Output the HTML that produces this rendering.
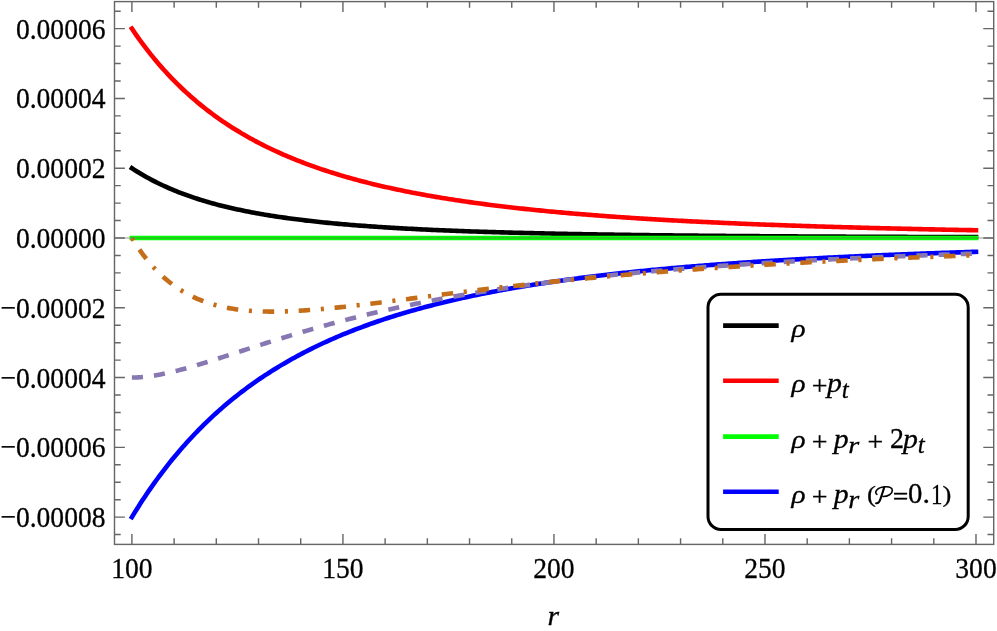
<!DOCTYPE html>
<html><head><meta charset="utf-8"><title>plot</title>
<style>html,body{margin:0;padding:0;background:#fff;}svg{display:block;}text{font-family:"Liberation Serif",serif;fill:#000;}.tk text{stroke:#000;stroke-width:0.3px;}</style></head><body>
<svg width="997" height="631" viewBox="0 0 997 631">
<rect width="997" height="631" fill="#fff"/>
<defs><mask id="mk" maskUnits="userSpaceOnUse" x="0" y="0" width="997" height="631"><rect width="997" height="631" fill="#fff"/></mask></defs>
<g fill="none" stroke-width="4.60" stroke-linejoin="round">
<path d="M131.90 168.22 L134.01 169.60 L136.12 170.94 L138.23 172.25 L140.34 173.53 L142.45 174.78 L144.56 176.00 L146.67 177.19 L148.78 178.35 L150.89 179.49 L153.00 180.59 L155.11 181.67 L157.22 182.73 L159.33 183.76 L161.44 184.77 L163.55 185.75 L165.66 186.71 L167.77 187.65 L169.88 188.57 L171.99 189.46 L174.11 190.34 L176.22 191.20 L178.33 192.03 L180.44 192.85 L182.55 193.65 L184.66 194.44 L186.77 195.20 L188.88 195.95 L190.99 196.68 L193.10 197.40 L195.21 198.10 L197.32 198.79 L199.43 199.46 L201.54 200.12 L203.65 200.76 L205.76 201.39 L207.87 202.01 L209.98 202.61 L212.09 203.20 L214.20 203.78 L216.31 204.35 L218.42 204.90 L220.53 205.45 L222.64 205.98 L224.75 206.50 L226.86 207.01 L228.97 207.51 L231.08 208.00 L233.19 208.48 L235.30 208.96 L237.41 209.42 L239.52 209.87 L241.63 210.31 L243.74 210.75 L245.85 211.18 L247.96 211.59 L250.07 212.00 L252.18 212.41 L254.29 212.80 L256.40 213.19 L258.51 213.57 L260.63 213.94 L262.74 214.31 L264.85 214.66 L266.96 215.02 L269.07 215.36 L271.18 215.70 L273.29 216.03 L275.40 216.36 L277.51 216.68 L279.62 216.99 L281.73 217.30 L283.84 217.60 L285.95 217.90 L288.06 218.19 L290.17 218.48 L292.28 218.76 L294.39 219.04 L296.50 219.31 L298.61 219.57 L300.72 219.84 L302.83 220.09 L304.94 220.35 L307.05 220.59 L309.16 220.84 L311.27 221.08 L313.38 221.31 L315.49 221.54 L317.60 221.77 L319.71 221.99 L321.82 222.21 L323.93 222.43 L326.04 222.64 L328.15 222.85 L330.26 223.06 L332.37 223.26 L334.48 223.46 L336.59 223.65 L338.70 223.84 L340.81 224.03 L342.93 224.22 L345.04 224.40 L347.15 224.58 L349.26 224.75 L351.37 224.93 L353.48 225.10 L355.59 225.27 L357.70 225.43 L359.81 225.59 L361.92 225.75 L364.03 225.91 L366.14 226.07 L368.25 226.22 L370.36 226.37 L372.47 226.51 L374.58 226.66 L376.69 226.80 L378.80 226.94 L380.91 227.08 L383.02 227.22 L385.13 227.35 L387.24 227.48 L389.35 227.61 L391.46 227.74 L393.57 227.87 L395.68 227.99 L397.79 228.11 L399.90 228.24 L402.01 228.35 L404.12 228.47 L406.23 228.59 L408.34 228.70 L410.45 228.81 L412.56 228.92 L414.67 229.03 L416.78 229.14 L418.89 229.24 L421.00 229.34 L423.11 229.45 L425.22 229.55 L427.34 229.65 L429.45 229.74 L431.56 229.84 L433.67 229.93 L435.78 230.03 L437.89 230.12 L440.00 230.21 L442.11 230.30 L444.22 230.39 L446.33 230.47 L448.44 230.56 L450.55 230.64 L452.66 230.73 L454.77 230.81 L456.88 230.89 L458.99 230.97 L461.10 231.05 L463.21 231.13 L465.32 231.20 L467.43 231.28 L469.54 231.35 L471.65 231.43 L473.76 231.50 L475.87 231.57 L477.98 231.64 L480.09 231.71 L482.20 231.78 L484.31 231.85 L486.42 231.91 L488.53 231.98 L490.64 232.04 L492.75 232.11 L494.86 232.17 L496.97 232.23 L499.08 232.29 L501.19 232.35 L503.30 232.41 L505.41 232.47 L507.52 232.53 L509.63 232.59 L511.75 232.65 L513.86 232.70 L515.97 232.76 L518.08 232.81 L520.19 232.87 L522.30 232.92 L524.41 232.97 L526.52 233.02 L528.63 233.07 L530.74 233.12 L532.85 233.17 L534.96 233.22 L537.07 233.27 L539.18 233.32 L541.29 233.37 L543.40 233.41 L545.51 233.46 L547.62 233.51 L549.73 233.55 L551.84 233.59 L553.95 233.64 L556.06 233.68 L558.17 233.72 L560.28 233.77 L562.39 233.81 L564.50 233.85 L566.61 233.89 L568.72 233.93 L570.83 233.97 L572.94 234.01 L575.05 234.05 L577.16 234.09 L579.27 234.13 L581.38 234.16 L583.49 234.20 L585.60 234.24 L587.71 234.27 L589.82 234.31 L591.93 234.34 L594.04 234.38 L596.16 234.41 L598.27 234.45 L600.38 234.48 L602.49 234.51 L604.60 234.55 L606.71 234.58 L608.82 234.61 L610.93 234.64 L613.04 234.67 L615.15 234.70 L617.26 234.73 L619.37 234.76 L621.48 234.79 L623.59 234.82 L625.70 234.85 L627.81 234.88 L629.92 234.91 L632.03 234.94 L634.14 234.97 L636.25 234.99 L638.36 235.02 L640.47 235.05 L642.58 235.07 L644.69 235.10 L646.80 235.13 L648.91 235.15 L651.02 235.18 L653.13 235.20 L655.24 235.23 L657.35 235.25 L659.46 235.28 L661.57 235.30 L663.68 235.33 L665.79 235.35 L667.90 235.37 L670.01 235.40 L672.12 235.42 L674.23 235.44 L676.34 235.46 L678.45 235.48 L680.57 235.51 L682.68 235.53 L684.79 235.55 L686.90 235.57 L689.01 235.59 L691.12 235.61 L693.23 235.63 L695.34 235.65 L697.45 235.67 L699.56 235.69 L701.67 235.71 L703.78 235.73 L705.89 235.75 L708.00 235.77 L710.11 235.79 L712.22 235.81 L714.33 235.83 L716.44 235.84 L718.55 235.86 L720.66 235.88 L722.77 235.90 L724.88 235.91 L726.99 235.93 L729.10 235.95 L731.21 235.97 L733.32 235.98 L735.43 236.00 L737.54 236.02 L739.65 236.03 L741.76 236.05 L743.87 236.06 L745.98 236.08 L748.09 236.09 L750.20 236.11 L752.31 236.13 L754.42 236.14 L756.53 236.16 L758.64 236.17 L760.75 236.18 L762.86 236.20 L764.98 236.21 L767.09 236.23 L769.20 236.24 L771.31 236.26 L773.42 236.27 L775.53 236.28 L777.64 236.30 L779.75 236.31 L781.86 236.32 L783.97 236.34 L786.08 236.35 L788.19 236.36 L790.30 236.38 L792.41 236.39 L794.52 236.40 L796.63 236.41 L798.74 236.43 L800.85 236.44 L802.96 236.45 L805.07 236.46 L807.18 236.47 L809.29 236.48 L811.40 236.50 L813.51 236.51 L815.62 236.52 L817.73 236.53 L819.84 236.54 L821.95 236.55 L824.06 236.56 L826.17 236.57 L828.28 236.59 L830.39 236.60 L832.50 236.61 L834.61 236.62 L836.72 236.63 L838.83 236.64 L840.94 236.65 L843.05 236.66 L845.16 236.67 L847.27 236.68 L849.38 236.69 L851.50 236.70 L853.61 236.71 L855.72 236.72 L857.83 236.73 L859.94 236.73 L862.05 236.74 L864.16 236.75 L866.27 236.76 L868.38 236.77 L870.49 236.78 L872.60 236.79 L874.71 236.80 L876.82 236.81 L878.93 236.81 L881.04 236.82 L883.15 236.83 L885.26 236.84 L887.37 236.85 L889.48 236.86 L891.59 236.86 L893.70 236.87 L895.81 236.88 L897.92 236.89 L900.03 236.90 L902.14 236.90 L904.25 236.91 L906.36 236.92 L908.47 236.93 L910.58 236.93 L912.69 236.94 L914.80 236.95 L916.91 236.96 L919.02 236.96 L921.13 236.97 L923.24 236.98 L925.35 236.99 L927.46 236.99 L929.57 237.00 L931.68 237.01 L933.80 237.01 L935.91 237.02 L938.02 237.03 L940.13 237.03 L942.24 237.04 L944.35 237.05 L946.46 237.05 L948.57 237.06 L950.68 237.07 L952.79 237.07 L954.90 237.08 L957.01 237.08 L959.12 237.09 L961.23 237.10 L963.34 237.10 L965.45 237.11 L967.56 237.12 L969.67 237.12 L971.78 237.13 L973.89 237.13 L976.00 237.14" stroke="#000000" stroke-linecap="square"/>
<path d="M131.90 28.66 L134.01 31.77 L136.12 34.82 L138.23 37.80 L140.34 40.73 L142.45 43.61 L144.56 46.42 L146.67 49.19 L148.78 51.90 L150.89 54.56 L153.00 57.16 L155.11 59.72 L157.22 62.23 L159.33 64.70 L161.44 67.12 L163.55 69.49 L165.66 71.82 L167.77 74.11 L169.88 76.35 L171.99 78.56 L174.11 80.72 L176.22 82.85 L178.33 84.93 L180.44 86.98 L182.55 89.00 L184.66 90.97 L186.77 92.92 L188.88 94.83 L190.99 96.70 L193.10 98.54 L195.21 100.36 L197.32 102.14 L199.43 103.88 L201.54 105.60 L203.65 107.29 L205.76 108.96 L207.87 110.59 L209.98 112.20 L212.09 113.77 L214.20 115.33 L216.31 116.85 L218.42 118.36 L220.53 119.83 L222.64 121.29 L224.75 122.72 L226.86 124.12 L228.97 125.50 L231.08 126.86 L233.19 128.20 L235.30 129.52 L237.41 130.82 L239.52 132.09 L241.63 133.35 L243.74 134.59 L245.85 135.80 L247.96 137.00 L250.07 138.18 L252.18 139.34 L254.29 140.48 L256.40 141.61 L258.51 142.72 L260.63 143.81 L262.74 144.88 L264.85 145.94 L266.96 146.98 L269.07 148.01 L271.18 149.02 L273.29 150.02 L275.40 151.00 L277.51 151.96 L279.62 152.92 L281.73 153.85 L283.84 154.78 L285.95 155.69 L288.06 156.59 L290.17 157.47 L292.28 158.34 L294.39 159.20 L296.50 160.05 L298.61 160.89 L300.72 161.71 L302.83 162.52 L304.94 163.32 L307.05 164.11 L309.16 164.89 L311.27 165.66 L313.38 166.41 L315.49 167.16 L317.60 167.89 L319.71 168.62 L321.82 169.33 L323.93 170.04 L326.04 170.73 L328.15 171.42 L330.26 172.10 L332.37 172.77 L334.48 173.42 L336.59 174.07 L338.70 174.72 L340.81 175.35 L342.93 175.97 L345.04 176.59 L347.15 177.20 L349.26 177.80 L351.37 178.39 L353.48 178.97 L355.59 179.55 L357.70 180.12 L359.81 180.68 L361.92 181.24 L364.03 181.78 L366.14 182.32 L368.25 182.86 L370.36 183.39 L372.47 183.91 L374.58 184.42 L376.69 184.93 L378.80 185.43 L380.91 185.92 L383.02 186.41 L385.13 186.89 L387.24 187.37 L389.35 187.84 L391.46 188.30 L393.57 188.76 L395.68 189.21 L397.79 189.66 L399.90 190.10 L402.01 190.54 L404.12 190.97 L406.23 191.40 L408.34 191.82 L410.45 192.24 L412.56 192.65 L414.67 193.05 L416.78 193.45 L418.89 193.85 L421.00 194.24 L423.11 194.63 L425.22 195.01 L427.34 195.39 L429.45 195.76 L431.56 196.13 L433.67 196.50 L435.78 196.86 L437.89 197.22 L440.00 197.57 L442.11 197.92 L444.22 198.26 L446.33 198.60 L448.44 198.94 L450.55 199.27 L452.66 199.60 L454.77 199.93 L456.88 200.25 L458.99 200.57 L461.10 200.88 L463.21 201.19 L465.32 201.50 L467.43 201.80 L469.54 202.10 L471.65 202.40 L473.76 202.70 L475.87 202.99 L477.98 203.28 L480.09 203.56 L482.20 203.84 L484.31 204.12 L486.42 204.40 L488.53 204.67 L490.64 204.94 L492.75 205.20 L494.86 205.47 L496.97 205.73 L499.08 205.99 L501.19 206.24 L503.30 206.50 L505.41 206.75 L507.52 206.99 L509.63 207.24 L511.75 207.48 L513.86 207.72 L515.97 207.96 L518.08 208.19 L520.19 208.42 L522.30 208.65 L524.41 208.88 L526.52 209.11 L528.63 209.33 L530.74 209.55 L532.85 209.77 L534.96 209.98 L537.07 210.20 L539.18 210.41 L541.29 210.62 L543.40 210.83 L545.51 211.03 L547.62 211.23 L549.73 211.44 L551.84 211.64 L553.95 211.83 L556.06 212.03 L558.17 212.22 L560.28 212.41 L562.39 212.60 L564.50 212.79 L566.61 212.98 L568.72 213.16 L570.83 213.34 L572.94 213.52 L575.05 213.70 L577.16 213.88 L579.27 214.05 L581.38 214.23 L583.49 214.40 L585.60 214.57 L587.71 214.74 L589.82 214.90 L591.93 215.07 L594.04 215.23 L596.16 215.40 L598.27 215.56 L600.38 215.72 L602.49 215.87 L604.60 216.03 L606.71 216.18 L608.82 216.34 L610.93 216.49 L613.04 216.64 L615.15 216.79 L617.26 216.94 L619.37 217.08 L621.48 217.23 L623.59 217.37 L625.70 217.51 L627.81 217.65 L629.92 217.79 L632.03 217.93 L634.14 218.07 L636.25 218.21 L638.36 218.34 L640.47 218.47 L642.58 218.61 L644.69 218.74 L646.80 218.87 L648.91 219.00 L651.02 219.12 L653.13 219.25 L655.24 219.37 L657.35 219.50 L659.46 219.62 L661.57 219.74 L663.68 219.86 L665.79 219.98 L667.90 220.10 L670.01 220.22 L672.12 220.34 L674.23 220.45 L676.34 220.57 L678.45 220.68 L680.57 220.79 L682.68 220.91 L684.79 221.02 L686.90 221.13 L689.01 221.24 L691.12 221.34 L693.23 221.45 L695.34 221.56 L697.45 221.66 L699.56 221.77 L701.67 221.87 L703.78 221.97 L705.89 222.07 L708.00 222.17 L710.11 222.27 L712.22 222.37 L714.33 222.47 L716.44 222.57 L718.55 222.67 L720.66 222.76 L722.77 222.86 L724.88 222.95 L726.99 223.04 L729.10 223.14 L731.21 223.23 L733.32 223.32 L735.43 223.41 L737.54 223.50 L739.65 223.59 L741.76 223.68 L743.87 223.77 L745.98 223.85 L748.09 223.94 L750.20 224.02 L752.31 224.11 L754.42 224.19 L756.53 224.28 L758.64 224.36 L760.75 224.44 L762.86 224.52 L764.98 224.60 L767.09 224.68 L769.20 224.76 L771.31 224.84 L773.42 224.92 L775.53 225.00 L777.64 225.07 L779.75 225.15 L781.86 225.23 L783.97 225.30 L786.08 225.37 L788.19 225.45 L790.30 225.52 L792.41 225.60 L794.52 225.67 L796.63 225.74 L798.74 225.81 L800.85 225.88 L802.96 225.95 L805.07 226.02 L807.18 226.09 L809.29 226.16 L811.40 226.23 L813.51 226.29 L815.62 226.36 L817.73 226.43 L819.84 226.49 L821.95 226.56 L824.06 226.62 L826.17 226.69 L828.28 226.75 L830.39 226.81 L832.50 226.88 L834.61 226.94 L836.72 227.00 L838.83 227.06 L840.94 227.12 L843.05 227.19 L845.16 227.25 L847.27 227.31 L849.38 227.36 L851.50 227.42 L853.61 227.48 L855.72 227.54 L857.83 227.60 L859.94 227.65 L862.05 227.71 L864.16 227.77 L866.27 227.82 L868.38 227.88 L870.49 227.93 L872.60 227.99 L874.71 228.04 L876.82 228.10 L878.93 228.15 L881.04 228.20 L883.15 228.26 L885.26 228.31 L887.37 228.36 L889.48 228.41 L891.59 228.46 L893.70 228.51 L895.81 228.57 L897.92 228.62 L900.03 228.67 L902.14 228.71 L904.25 228.76 L906.36 228.81 L908.47 228.86 L910.58 228.91 L912.69 228.96 L914.80 229.00 L916.91 229.05 L919.02 229.10 L921.13 229.14 L923.24 229.19 L925.35 229.24 L927.46 229.28 L929.57 229.33 L931.68 229.37 L933.80 229.42 L935.91 229.46 L938.02 229.50 L940.13 229.55 L942.24 229.59 L944.35 229.63 L946.46 229.68 L948.57 229.72 L950.68 229.76 L952.79 229.80 L954.90 229.85 L957.01 229.89 L959.12 229.93 L961.23 229.97 L963.34 230.01 L965.45 230.05 L967.56 230.09 L969.67 230.13 L971.78 230.17 L973.89 230.21 L976.00 230.25" stroke="#ff0000" stroke-linecap="square"/>
<path d="M131.90 238.00 L134.01 238.00 L136.12 238.00 L138.23 238.00 L140.34 238.00 L142.45 238.00 L144.56 238.00 L146.67 238.00 L148.78 238.00 L150.89 238.00 L153.00 238.00 L155.11 238.00 L157.22 238.00 L159.33 238.00 L161.44 238.00 L163.55 238.00 L165.66 238.00 L167.77 238.00 L169.88 238.00 L171.99 238.00 L174.11 238.00 L176.22 238.00 L178.33 238.00 L180.44 238.00 L182.55 238.00 L184.66 238.00 L186.77 238.00 L188.88 238.00 L190.99 238.00 L193.10 238.00 L195.21 238.00 L197.32 238.00 L199.43 238.00 L201.54 238.00 L203.65 238.00 L205.76 238.00 L207.87 238.00 L209.98 238.00 L212.09 238.00 L214.20 238.00 L216.31 238.00 L218.42 238.00 L220.53 238.00 L222.64 238.00 L224.75 238.00 L226.86 238.00 L228.97 238.00 L231.08 238.00 L233.19 238.00 L235.30 238.00 L237.41 238.00 L239.52 238.00 L241.63 238.00 L243.74 238.00 L245.85 238.00 L247.96 238.00 L250.07 238.00 L252.18 238.00 L254.29 238.00 L256.40 238.00 L258.51 238.00 L260.63 238.00 L262.74 238.00 L264.85 238.00 L266.96 238.00 L269.07 238.00 L271.18 238.00 L273.29 238.00 L275.40 238.00 L277.51 238.00 L279.62 238.00 L281.73 238.00 L283.84 238.00 L285.95 238.00 L288.06 238.00 L290.17 238.00 L292.28 238.00 L294.39 238.00 L296.50 238.00 L298.61 238.00 L300.72 238.00 L302.83 238.00 L304.94 238.00 L307.05 238.00 L309.16 238.00 L311.27 238.00 L313.38 238.00 L315.49 238.00 L317.60 238.00 L319.71 238.00 L321.82 238.00 L323.93 238.00 L326.04 238.00 L328.15 238.00 L330.26 238.00 L332.37 238.00 L334.48 238.00 L336.59 238.00 L338.70 238.00 L340.81 238.00 L342.93 238.00 L345.04 238.00 L347.15 238.00 L349.26 238.00 L351.37 238.00 L353.48 238.00 L355.59 238.00 L357.70 238.00 L359.81 238.00 L361.92 238.00 L364.03 238.00 L366.14 238.00 L368.25 238.00 L370.36 238.00 L372.47 238.00 L374.58 238.00 L376.69 238.00 L378.80 238.00 L380.91 238.00 L383.02 238.00 L385.13 238.00 L387.24 238.00 L389.35 238.00 L391.46 238.00 L393.57 238.00 L395.68 238.00 L397.79 238.00 L399.90 238.00 L402.01 238.00 L404.12 238.00 L406.23 238.00 L408.34 238.00 L410.45 238.00 L412.56 238.00 L414.67 238.00 L416.78 238.00 L418.89 238.00 L421.00 238.00 L423.11 238.00 L425.22 238.00 L427.34 238.00 L429.45 238.00 L431.56 238.00 L433.67 238.00 L435.78 238.00 L437.89 238.00 L440.00 238.00 L442.11 238.00 L444.22 238.00 L446.33 238.00 L448.44 238.00 L450.55 238.00 L452.66 238.00 L454.77 238.00 L456.88 238.00 L458.99 238.00 L461.10 238.00 L463.21 238.00 L465.32 238.00 L467.43 238.00 L469.54 238.00 L471.65 238.00 L473.76 238.00 L475.87 238.00 L477.98 238.00 L480.09 238.00 L482.20 238.00 L484.31 238.00 L486.42 238.00 L488.53 238.00 L490.64 238.00 L492.75 238.00 L494.86 238.00 L496.97 238.00 L499.08 238.00 L501.19 238.00 L503.30 238.00 L505.41 238.00 L507.52 238.00 L509.63 238.00 L511.75 238.00 L513.86 238.00 L515.97 238.00 L518.08 238.00 L520.19 238.00 L522.30 238.00 L524.41 238.00 L526.52 238.00 L528.63 238.00 L530.74 238.00 L532.85 238.00 L534.96 238.00 L537.07 238.00 L539.18 238.00 L541.29 238.00 L543.40 238.00 L545.51 238.00 L547.62 238.00 L549.73 238.00 L551.84 238.00 L553.95 238.00 L556.06 238.00 L558.17 238.00 L560.28 238.00 L562.39 238.00 L564.50 238.00 L566.61 238.00 L568.72 238.00 L570.83 238.00 L572.94 238.00 L575.05 238.00 L577.16 238.00 L579.27 238.00 L581.38 238.00 L583.49 238.00 L585.60 238.00 L587.71 238.00 L589.82 238.00 L591.93 238.00 L594.04 238.00 L596.16 238.00 L598.27 238.00 L600.38 238.00 L602.49 238.00 L604.60 238.00 L606.71 238.00 L608.82 238.00 L610.93 238.00 L613.04 238.00 L615.15 238.00 L617.26 238.00 L619.37 238.00 L621.48 238.00 L623.59 238.00 L625.70 238.00 L627.81 238.00 L629.92 238.00 L632.03 238.00 L634.14 238.00 L636.25 238.00 L638.36 238.00 L640.47 238.00 L642.58 238.00 L644.69 238.00 L646.80 238.00 L648.91 238.00 L651.02 238.00 L653.13 238.00 L655.24 238.00 L657.35 238.00 L659.46 238.00 L661.57 238.00 L663.68 238.00 L665.79 238.00 L667.90 238.00 L670.01 238.00 L672.12 238.00 L674.23 238.00 L676.34 238.00 L678.45 238.00 L680.57 238.00 L682.68 238.00 L684.79 238.00 L686.90 238.00 L689.01 238.00 L691.12 238.00 L693.23 238.00 L695.34 238.00 L697.45 238.00 L699.56 238.00 L701.67 238.00 L703.78 238.00 L705.89 238.00 L708.00 238.00 L710.11 238.00 L712.22 238.00 L714.33 238.00 L716.44 238.00 L718.55 238.00 L720.66 238.00 L722.77 238.00 L724.88 238.00 L726.99 238.00 L729.10 238.00 L731.21 238.00 L733.32 238.00 L735.43 238.00 L737.54 238.00 L739.65 238.00 L741.76 238.00 L743.87 238.00 L745.98 238.00 L748.09 238.00 L750.20 238.00 L752.31 238.00 L754.42 238.00 L756.53 238.00 L758.64 238.00 L760.75 238.00 L762.86 238.00 L764.98 238.00 L767.09 238.00 L769.20 238.00 L771.31 238.00 L773.42 238.00 L775.53 238.00 L777.64 238.00 L779.75 238.00 L781.86 238.00 L783.97 238.00 L786.08 238.00 L788.19 238.00 L790.30 238.00 L792.41 238.00 L794.52 238.00 L796.63 238.00 L798.74 238.00 L800.85 238.00 L802.96 238.00 L805.07 238.00 L807.18 238.00 L809.29 238.00 L811.40 238.00 L813.51 238.00 L815.62 238.00 L817.73 238.00 L819.84 238.00 L821.95 238.00 L824.06 238.00 L826.17 238.00 L828.28 238.00 L830.39 238.00 L832.50 238.00 L834.61 238.00 L836.72 238.00 L838.83 238.00 L840.94 238.00 L843.05 238.00 L845.16 238.00 L847.27 238.00 L849.38 238.00 L851.50 238.00 L853.61 238.00 L855.72 238.00 L857.83 238.00 L859.94 238.00 L862.05 238.00 L864.16 238.00 L866.27 238.00 L868.38 238.00 L870.49 238.00 L872.60 238.00 L874.71 238.00 L876.82 238.00 L878.93 238.00 L881.04 238.00 L883.15 238.00 L885.26 238.00 L887.37 238.00 L889.48 238.00 L891.59 238.00 L893.70 238.00 L895.81 238.00 L897.92 238.00 L900.03 238.00 L902.14 238.00 L904.25 238.00 L906.36 238.00 L908.47 238.00 L910.58 238.00 L912.69 238.00 L914.80 238.00 L916.91 238.00 L919.02 238.00 L921.13 238.00 L923.24 238.00 L925.35 238.00 L927.46 238.00 L929.57 238.00 L931.68 238.00 L933.80 238.00 L935.91 238.00 L938.02 238.00 L940.13 238.00 L942.24 238.00 L944.35 238.00 L946.46 238.00 L948.57 238.00 L950.68 238.00 L952.79 238.00 L954.90 238.00 L957.01 238.00 L959.12 238.00 L961.23 238.00 L963.34 238.00 L965.45 238.00 L967.56 238.00 L969.67 238.00 L971.78 238.00 L973.89 238.00 L976.00 238.00" stroke="#00ff00" stroke-linecap="square"/>
<path d="M131.90 517.12 L134.01 513.66 L136.12 510.25 L138.23 506.90 L140.34 503.60 L142.45 500.35 L144.56 497.15 L146.67 494.01 L148.78 490.91 L150.89 487.86 L153.00 484.86 L155.11 481.90 L157.22 478.99 L159.33 476.12 L161.44 473.30 L163.55 470.52 L165.66 467.78 L167.77 465.09 L169.88 462.43 L171.99 459.81 L174.11 457.24 L176.22 454.70 L178.33 452.20 L180.44 449.74 L182.55 447.32 L184.66 444.93 L186.77 442.57 L188.88 440.25 L190.99 437.97 L193.10 435.71 L195.21 433.50 L197.32 431.31 L199.43 429.15 L201.54 427.03 L203.65 424.94 L205.76 422.87 L207.87 420.84 L209.98 418.83 L212.09 416.86 L214.20 414.91 L216.31 412.99 L218.42 411.09 L220.53 409.23 L222.64 407.39 L224.75 405.57 L226.86 403.78 L228.97 402.02 L231.08 400.28 L233.19 398.56 L235.30 396.87 L237.41 395.20 L239.52 393.55 L241.63 391.93 L243.74 390.33 L245.85 388.75 L247.96 387.19 L250.07 385.65 L252.18 384.14 L254.29 382.64 L256.40 381.16 L258.51 379.71 L260.63 378.27 L262.74 376.85 L264.85 375.45 L266.96 374.07 L269.07 372.71 L271.18 371.36 L273.29 370.03 L275.40 368.72 L277.51 367.43 L279.62 366.15 L281.73 364.89 L283.84 363.65 L285.95 362.42 L288.06 361.21 L290.17 360.01 L292.28 358.83 L294.39 357.66 L296.50 356.51 L298.61 355.37 L300.72 354.25 L302.83 353.14 L304.94 352.05 L307.05 350.97 L309.16 349.90 L311.27 348.84 L313.38 347.80 L315.49 346.77 L317.60 345.76 L319.71 344.75 L321.82 343.76 L323.93 342.78 L326.04 341.82 L328.15 340.86 L330.26 339.92 L332.37 338.98 L334.48 338.06 L336.59 337.15 L338.70 336.25 L340.81 335.36 L342.93 334.49 L345.04 333.62 L347.15 332.76 L349.26 331.91 L351.37 331.08 L353.48 330.25 L355.59 329.43 L357.70 328.62 L359.81 327.82 L361.92 327.03 L364.03 326.25 L366.14 325.48 L368.25 324.72 L370.36 323.96 L372.47 323.22 L374.58 322.48 L376.69 321.75 L378.80 321.03 L380.91 320.32 L383.02 319.62 L385.13 318.92 L387.24 318.23 L389.35 317.55 L391.46 316.88 L393.57 316.21 L395.68 315.56 L397.79 314.91 L399.90 314.26 L402.01 313.63 L404.12 313.00 L406.23 312.37 L408.34 311.76 L410.45 311.15 L412.56 310.55 L414.67 309.95 L416.78 309.36 L418.89 308.78 L421.00 308.20 L423.11 307.63 L425.22 307.07 L427.34 306.51 L429.45 305.96 L431.56 305.41 L433.67 304.87 L435.78 304.33 L437.89 303.81 L440.00 303.28 L442.11 302.76 L444.22 302.25 L446.33 301.74 L448.44 301.24 L450.55 300.74 L452.66 300.25 L454.77 299.77 L456.88 299.28 L458.99 298.81 L461.10 298.34 L463.21 297.87 L465.32 297.41 L467.43 296.95 L469.54 296.50 L471.65 296.05 L473.76 295.60 L475.87 295.16 L477.98 294.73 L480.09 294.30 L482.20 293.87 L484.31 293.45 L486.42 293.03 L488.53 292.62 L490.64 292.21 L492.75 291.81 L494.86 291.40 L496.97 291.01 L499.08 290.61 L501.19 290.22 L503.30 289.84 L505.41 289.46 L507.52 289.08 L509.63 288.70 L511.75 288.33 L513.86 287.96 L515.97 287.60 L518.08 287.24 L520.19 286.88 L522.30 286.53 L524.41 286.18 L526.52 285.83 L528.63 285.49 L530.74 285.15 L532.85 284.81 L534.96 284.48 L537.07 284.15 L539.18 283.82 L541.29 283.50 L543.40 283.18 L545.51 282.86 L547.62 282.54 L549.73 282.23 L551.84 281.92 L553.95 281.61 L556.06 281.31 L558.17 281.01 L560.28 280.71 L562.39 280.41 L564.50 280.12 L566.61 279.83 L568.72 279.54 L570.83 279.26 L572.94 278.98 L575.05 278.70 L577.16 278.42 L579.27 278.14 L581.38 277.87 L583.49 277.60 L585.60 277.33 L587.71 277.07 L589.82 276.81 L591.93 276.55 L594.04 276.29 L596.16 276.03 L598.27 275.78 L600.38 275.53 L602.49 275.28 L604.60 275.03 L606.71 274.79 L608.82 274.55 L610.93 274.30 L613.04 274.07 L615.15 273.83 L617.26 273.60 L619.37 273.36 L621.48 273.13 L623.59 272.91 L625.70 272.68 L627.81 272.46 L629.92 272.23 L632.03 272.01 L634.14 271.79 L636.25 271.58 L638.36 271.36 L640.47 271.15 L642.58 270.94 L644.69 270.73 L646.80 270.52 L648.91 270.32 L651.02 270.11 L653.13 269.91 L655.24 269.71 L657.35 269.51 L659.46 269.31 L661.57 269.12 L663.68 268.92 L665.79 268.73 L667.90 268.54 L670.01 268.35 L672.12 268.16 L674.23 267.97 L676.34 267.79 L678.45 267.61 L680.57 267.42 L682.68 267.24 L684.79 267.06 L686.90 266.89 L689.01 266.71 L691.12 266.54 L693.23 266.36 L695.34 266.19 L697.45 266.02 L699.56 265.85 L701.67 265.69 L703.78 265.52 L705.89 265.35 L708.00 265.19 L710.11 265.03 L712.22 264.87 L714.33 264.71 L716.44 264.55 L718.55 264.39 L720.66 264.23 L722.77 264.08 L724.88 263.93 L726.99 263.77 L729.10 263.62 L731.21 263.47 L733.32 263.32 L735.43 263.18 L737.54 263.03 L739.65 262.88 L741.76 262.74 L743.87 262.60 L745.98 262.45 L748.09 262.31 L750.20 262.17 L752.31 262.03 L754.42 261.90 L756.53 261.76 L758.64 261.62 L760.75 261.49 L762.86 261.36 L764.98 261.22 L767.09 261.09 L769.20 260.96 L771.31 260.83 L773.42 260.70 L775.53 260.57 L777.64 260.45 L779.75 260.32 L781.86 260.20 L783.97 260.07 L786.08 259.95 L788.19 259.83 L790.30 259.71 L792.41 259.59 L794.52 259.47 L796.63 259.35 L798.74 259.23 L800.85 259.11 L802.96 259.00 L805.07 258.88 L807.18 258.77 L809.29 258.65 L811.40 258.54 L813.51 258.43 L815.62 258.32 L817.73 258.21 L819.84 258.10 L821.95 257.99 L824.06 257.88 L826.17 257.77 L828.28 257.67 L830.39 257.56 L832.50 257.46 L834.61 257.35 L836.72 257.25 L838.83 257.15 L840.94 257.05 L843.05 256.94 L845.16 256.84 L847.27 256.74 L849.38 256.65 L851.50 256.55 L853.61 256.45 L855.72 256.35 L857.83 256.26 L859.94 256.16 L862.05 256.07 L864.16 255.97 L866.27 255.88 L868.38 255.78 L870.49 255.69 L872.60 255.60 L874.71 255.51 L876.82 255.42 L878.93 255.33 L881.04 255.24 L883.15 255.15 L885.26 255.06 L887.37 254.98 L889.48 254.89 L891.59 254.80 L893.70 254.72 L895.81 254.63 L897.92 254.55 L900.03 254.46 L902.14 254.38 L904.25 254.30 L906.36 254.21 L908.47 254.13 L910.58 254.05 L912.69 253.97 L914.80 253.89 L916.91 253.81 L919.02 253.73 L921.13 253.65 L923.24 253.58 L925.35 253.50 L927.46 253.42 L929.57 253.34 L931.68 253.27 L933.80 253.19 L935.91 253.12 L938.02 253.04 L940.13 252.97 L942.24 252.90 L944.35 252.82 L946.46 252.75 L948.57 252.68 L950.68 252.61 L952.79 252.54 L954.90 252.47 L957.01 252.40 L959.12 252.33 L961.23 252.26 L963.34 252.19 L965.45 252.12 L967.56 252.05 L969.67 251.98 L971.78 251.92 L973.89 251.85 L976.00 251.78" stroke="#0000ff" stroke-linecap="square"/>
<path d="M131.90 377.56 L134.01 377.54 L136.12 377.48 L138.23 377.38 L140.34 377.25 L142.45 377.08 L144.56 376.88 L146.67 376.65 L148.78 376.38 L150.89 376.09 L153.00 375.78 L155.11 375.44 L157.22 375.08 L159.33 374.69 L161.44 374.28 L163.55 373.85 L165.66 373.41 L167.77 372.94 L169.88 372.46 L171.99 371.96 L174.11 371.45 L176.22 370.92 L178.33 370.38 L180.44 369.83 L182.55 369.27 L184.66 368.69 L186.77 368.10 L188.88 367.51 L190.99 366.90 L193.10 366.29 L195.21 365.67 L197.32 365.04 L199.43 364.41 L201.54 363.77 L203.65 363.12 L205.76 362.47 L207.87 361.81 L209.98 361.15 L212.09 360.49 L214.20 359.82 L216.31 359.15 L218.42 358.47 L220.53 357.79 L222.64 357.12 L224.75 356.43 L226.86 355.75 L228.97 355.07 L231.08 354.38 L233.19 353.70 L235.30 353.01 L237.41 352.33 L239.52 351.64 L241.63 350.96 L243.74 350.27 L245.85 349.59 L247.96 348.90 L250.07 348.22 L252.18 347.54 L254.29 346.86 L256.40 346.18 L258.51 345.50 L260.63 344.82 L262.74 344.15 L264.85 343.48 L266.96 342.81 L269.07 342.14 L271.18 341.48 L273.29 340.81 L275.40 340.15 L277.51 339.50 L279.62 338.84 L281.73 338.19 L283.84 337.54 L285.95 336.89 L288.06 336.25 L290.17 335.61 L292.28 334.97 L294.39 334.34 L296.50 333.71 L298.61 333.08 L300.72 332.45 L302.83 331.83 L304.94 331.22 L307.05 330.60 L309.16 329.99 L311.27 329.38 L313.38 328.78 L315.49 328.18 L317.60 327.58 L319.71 326.99 L321.82 326.40 L323.93 325.81 L326.04 325.23 L328.15 324.65 L330.26 324.08 L332.37 323.50 L334.48 322.94 L336.59 322.37 L338.70 321.81 L340.81 321.26 L342.93 320.70 L345.04 320.15 L347.15 319.61 L349.26 319.06 L351.37 318.53 L353.48 317.99 L355.59 317.46 L357.70 316.93 L359.81 316.41 L361.92 315.89 L364.03 315.37 L366.14 314.86 L368.25 314.35 L370.36 313.84 L372.47 313.34 L374.58 312.84 L376.69 312.35 L378.80 311.86 L380.91 311.37 L383.02 310.88 L385.13 310.40 L387.24 309.93 L389.35 309.45 L391.46 308.98 L393.57 308.51 L395.68 308.05 L397.79 307.59 L399.90 307.13 L402.01 306.68 L404.12 306.23 L406.23 305.78 L408.34 305.34 L410.45 304.90 L412.56 304.46 L414.67 304.03 L416.78 303.60 L418.89 303.17 L421.00 302.75 L423.11 302.33 L425.22 301.91 L427.34 301.50 L429.45 301.09 L431.56 300.68 L433.67 300.27 L435.78 299.87 L437.89 299.47 L440.00 299.07 L442.11 298.68 L444.22 298.29 L446.33 297.90 L448.44 297.52 L450.55 297.14 L452.66 296.76 L454.77 296.39 L456.88 296.01 L458.99 295.64 L461.10 295.28 L463.21 294.91 L465.32 294.55 L467.43 294.19 L469.54 293.84 L471.65 293.48 L473.76 293.13 L475.87 292.79 L477.98 292.44 L480.09 292.10 L482.20 291.76 L484.31 291.42 L486.42 291.09 L488.53 290.75 L490.64 290.42 L492.75 290.10 L494.86 289.77 L496.97 289.45 L499.08 289.13 L501.19 288.81 L503.30 288.50 L505.41 288.18 L507.52 287.87 L509.63 287.57 L511.75 287.26 L513.86 286.96 L515.97 286.66 L518.08 286.36 L520.19 286.06 L522.30 285.77 L524.41 285.48 L526.52 285.19 L528.63 284.90 L530.74 284.61 L532.85 284.33 L534.96 284.05 L537.07 283.77 L539.18 283.49 L541.29 283.22 L543.40 282.95 L545.51 282.68 L547.62 282.41 L549.73 282.14 L551.84 281.88 L553.95 281.61 L556.06 281.35 L558.17 281.09 L560.28 280.84 L562.39 280.58 L564.50 280.33 L566.61 280.08 L568.72 279.83 L570.83 279.58 L572.94 279.33 L575.05 279.09 L577.16 278.85 L579.27 278.61 L581.38 278.37 L583.49 278.13 L585.60 277.90 L587.71 277.67 L589.82 277.43 L591.93 277.20 L594.04 276.98 L596.16 276.75 L598.27 276.53 L600.38 276.30 L602.49 276.08 L604.60 275.86 L606.71 275.64 L608.82 275.43 L610.93 275.21 L613.04 275.00 L615.15 274.79 L617.26 274.58 L619.37 274.37 L621.48 274.16 L623.59 273.95 L625.70 273.75 L627.81 273.55 L629.92 273.35 L632.03 273.15 L634.14 272.95 L636.25 272.75 L638.36 272.55 L640.47 272.36 L642.58 272.17 L644.69 271.98 L646.80 271.79 L648.91 271.60 L651.02 271.41 L653.13 271.22 L655.24 271.04 L657.35 270.85 L659.46 270.67 L661.57 270.49 L663.68 270.31 L665.79 270.13 L667.90 269.96 L670.01 269.78 L672.12 269.61 L674.23 269.43 L676.34 269.26 L678.45 269.09 L680.57 268.92 L682.68 268.75 L684.79 268.58 L686.90 268.42 L689.01 268.25 L691.12 268.09 L693.23 267.93 L695.34 267.76 L697.45 267.60 L699.56 267.44 L701.67 267.29 L703.78 267.13 L705.89 266.97 L708.00 266.82 L710.11 266.66 L712.22 266.51 L714.33 266.36 L716.44 266.21 L718.55 266.06 L720.66 265.91 L722.77 265.76 L724.88 265.62 L726.99 265.47 L729.10 265.33 L731.21 265.18 L733.32 265.04 L735.43 264.90 L737.54 264.76 L739.65 264.62 L741.76 264.48 L743.87 264.34 L745.98 264.20 L748.09 264.07 L750.20 263.93 L752.31 263.80 L754.42 263.66 L756.53 263.53 L758.64 263.40 L760.75 263.27 L762.86 263.14 L764.98 263.01 L767.09 262.88 L769.20 262.75 L771.31 262.63 L773.42 262.50 L775.53 262.38 L777.64 262.25 L779.75 262.13 L781.86 262.01 L783.97 261.89 L786.08 261.76 L788.19 261.64 L790.30 261.53 L792.41 261.41 L794.52 261.29 L796.63 261.17 L798.74 261.06 L800.85 260.94 L802.96 260.83 L805.07 260.71 L807.18 260.60 L809.29 260.49 L811.40 260.38 L813.51 260.26 L815.62 260.15 L817.73 260.04 L819.84 259.94 L821.95 259.83 L824.06 259.72 L826.17 259.61 L828.28 259.51 L830.39 259.40 L832.50 259.30 L834.61 259.19 L836.72 259.09 L838.83 258.99 L840.94 258.89 L843.05 258.78 L845.16 258.68 L847.27 258.58 L849.38 258.48 L851.50 258.38 L853.61 258.29 L855.72 258.19 L857.83 258.09 L859.94 258.00 L862.05 257.90 L864.16 257.80 L866.27 257.71 L868.38 257.62 L870.49 257.52 L872.60 257.43 L874.71 257.34 L876.82 257.24 L878.93 257.15 L881.04 257.06 L883.15 256.97 L885.26 256.88 L887.37 256.79 L889.48 256.71 L891.59 256.62 L893.70 256.53 L895.81 256.44 L897.92 256.36 L900.03 256.27 L902.14 256.19 L904.25 256.10 L906.36 256.02 L908.47 255.93 L910.58 255.85 L912.69 255.77 L914.80 255.69 L916.91 255.61 L919.02 255.52 L921.13 255.44 L923.24 255.36 L925.35 255.28 L927.46 255.20 L929.57 255.13 L931.68 255.05 L933.80 254.97 L935.91 254.89 L938.02 254.82 L940.13 254.74 L942.24 254.66 L944.35 254.59 L946.46 254.51 L948.57 254.44 L950.68 254.36 L952.79 254.29 L954.90 254.22 L957.01 254.14 L959.12 254.07 L961.23 254.00 L963.34 253.93 L965.45 253.86 L967.56 253.79 L969.67 253.72 L971.78 253.65 L973.89 253.58 L976.00 253.51" stroke="#8778b3" stroke-dasharray="11.1 11.05" stroke-linecap="butt"/>
<path d="M131.90 238.00 L134.01 241.42 L136.12 244.71 L138.23 247.86 L140.34 250.89 L142.45 253.80 L144.56 256.60 L146.67 259.28 L148.78 261.86 L150.89 264.33 L153.00 266.70 L155.11 268.98 L157.22 271.16 L159.33 273.26 L161.44 275.26 L163.55 277.19 L165.66 279.03 L167.77 280.80 L169.88 282.49 L171.99 284.11 L174.11 285.66 L176.22 287.14 L178.33 288.56 L180.44 289.92 L182.55 291.22 L184.66 292.45 L186.77 293.64 L188.88 294.77 L190.99 295.84 L193.10 296.87 L195.21 297.85 L197.32 298.78 L199.43 299.66 L201.54 300.50 L203.65 301.30 L205.76 302.06 L207.87 302.79 L209.98 303.47 L212.09 304.11 L214.20 304.73 L216.31 305.30 L218.42 305.85 L220.53 306.36 L222.64 306.84 L224.75 307.30 L226.86 307.72 L228.97 308.12 L231.08 308.49 L233.19 308.84 L235.30 309.16 L237.41 309.45 L239.52 309.73 L241.63 309.98 L243.74 310.21 L245.85 310.42 L247.96 310.61 L250.07 310.79 L252.18 310.94 L254.29 311.08 L256.40 311.19 L258.51 311.30 L260.63 311.38 L262.74 311.45 L264.85 311.51 L266.96 311.55 L269.07 311.58 L271.18 311.59 L273.29 311.60 L275.40 311.59 L277.51 311.56 L279.62 311.53 L281.73 311.49 L283.84 311.43 L285.95 311.37 L288.06 311.29 L290.17 311.21 L292.28 311.11 L294.39 311.01 L296.50 310.90 L298.61 310.78 L300.72 310.66 L302.83 310.52 L304.94 310.38 L307.05 310.24 L309.16 310.08 L311.27 309.92 L313.38 309.76 L315.49 309.58 L317.60 309.41 L319.71 309.22 L321.82 309.03 L323.93 308.84 L326.04 308.64 L328.15 308.44 L330.26 308.24 L332.37 308.03 L334.48 307.81 L336.59 307.59 L338.70 307.37 L340.81 307.15 L342.93 306.92 L345.04 306.69 L347.15 306.45 L349.26 306.22 L351.37 305.98 L353.48 305.73 L355.59 305.49 L357.70 305.24 L359.81 304.99 L361.92 304.74 L364.03 304.49 L366.14 304.24 L368.25 303.98 L370.36 303.72 L372.47 303.46 L374.58 303.20 L376.69 302.94 L378.80 302.68 L380.91 302.42 L383.02 302.15 L385.13 301.89 L387.24 301.62 L389.35 301.35 L391.46 301.08 L393.57 300.81 L395.68 300.55 L397.79 300.28 L399.90 300.01 L402.01 299.74 L404.12 299.46 L406.23 299.19 L408.34 298.92 L410.45 298.65 L412.56 298.38 L414.67 298.11 L416.78 297.84 L418.89 297.57 L421.00 297.30 L423.11 297.02 L425.22 296.75 L427.34 296.48 L429.45 296.21 L431.56 295.94 L433.67 295.67 L435.78 295.40 L437.89 295.14 L440.00 294.87 L442.11 294.60 L444.22 294.33 L446.33 294.07 L448.44 293.80 L450.55 293.54 L452.66 293.27 L454.77 293.01 L456.88 292.74 L458.99 292.48 L461.10 292.22 L463.21 291.96 L465.32 291.70 L467.43 291.44 L469.54 291.18 L471.65 290.92 L473.76 290.66 L475.87 290.41 L477.98 290.15 L480.09 289.90 L482.20 289.64 L484.31 289.39 L486.42 289.14 L488.53 288.89 L490.64 288.64 L492.75 288.39 L494.86 288.14 L496.97 287.89 L499.08 287.65 L501.19 287.40 L503.30 287.16 L505.41 286.91 L507.52 286.67 L509.63 286.43 L511.75 286.19 L513.86 285.95 L515.97 285.71 L518.08 285.48 L520.19 285.24 L522.30 285.01 L524.41 284.77 L526.52 284.54 L528.63 284.31 L530.74 284.08 L532.85 283.85 L534.96 283.62 L537.07 283.39 L539.18 283.17 L541.29 282.94 L543.40 282.72 L545.51 282.49 L547.62 282.27 L549.73 282.05 L551.84 281.83 L553.95 281.61 L556.06 281.39 L558.17 281.18 L560.28 280.96 L562.39 280.75 L564.50 280.54 L566.61 280.32 L568.72 280.11 L570.83 279.90 L572.94 279.69 L575.05 279.49 L577.16 279.28 L579.27 279.07 L581.38 278.87 L583.49 278.67 L585.60 278.46 L587.71 278.26 L589.82 278.06 L591.93 277.86 L594.04 277.67 L596.16 277.47 L598.27 277.27 L600.38 277.08 L602.49 276.88 L604.60 276.69 L606.71 276.50 L608.82 276.31 L610.93 276.12 L613.04 275.93 L615.15 275.74 L617.26 275.56 L619.37 275.37 L621.48 275.19 L623.59 275.00 L625.70 274.82 L627.81 274.64 L629.92 274.46 L632.03 274.28 L634.14 274.10 L636.25 273.92 L638.36 273.75 L640.47 273.57 L642.58 273.40 L644.69 273.22 L646.80 273.05 L648.91 272.88 L651.02 272.71 L653.13 272.54 L655.24 272.37 L657.35 272.20 L659.46 272.03 L661.57 271.87 L663.68 271.70 L665.79 271.54 L667.90 271.38 L670.01 271.21 L672.12 271.05 L674.23 270.89 L676.34 270.73 L678.45 270.57 L680.57 270.42 L682.68 270.26 L684.79 270.10 L686.90 269.95 L689.01 269.79 L691.12 269.64 L693.23 269.49 L695.34 269.34 L697.45 269.19 L699.56 269.04 L701.67 268.89 L703.78 268.74 L705.89 268.59 L708.00 268.45 L710.11 268.30 L712.22 268.16 L714.33 268.01 L716.44 267.87 L718.55 267.73 L720.66 267.59 L722.77 267.45 L724.88 267.31 L726.99 267.17 L729.10 267.03 L731.21 266.89 L733.32 266.75 L735.43 266.62 L737.54 266.48 L739.65 266.35 L741.76 266.22 L743.87 266.08 L745.98 265.95 L748.09 265.82 L750.20 265.69 L752.31 265.56 L754.42 265.43 L756.53 265.30 L758.64 265.17 L760.75 265.05 L762.86 264.92 L764.98 264.80 L767.09 264.67 L769.20 264.55 L771.31 264.42 L773.42 264.30 L775.53 264.18 L777.64 264.06 L779.75 263.94 L781.86 263.82 L783.97 263.70 L786.08 263.58 L788.19 263.46 L790.30 263.35 L792.41 263.23 L794.52 263.11 L796.63 263.00 L798.74 262.88 L800.85 262.77 L802.96 262.66 L805.07 262.54 L807.18 262.43 L809.29 262.32 L811.40 262.21 L813.51 262.10 L815.62 261.99 L817.73 261.88 L819.84 261.77 L821.95 261.67 L824.06 261.56 L826.17 261.45 L828.28 261.35 L830.39 261.24 L832.50 261.14 L834.61 261.03 L836.72 260.93 L838.83 260.83 L840.94 260.72 L843.05 260.62 L845.16 260.52 L847.27 260.42 L849.38 260.32 L851.50 260.22 L853.61 260.12 L855.72 260.02 L857.83 259.93 L859.94 259.83 L862.05 259.73 L864.16 259.64 L866.27 259.54 L868.38 259.45 L870.49 259.35 L872.60 259.26 L874.71 259.16 L876.82 259.07 L878.93 258.98 L881.04 258.89 L883.15 258.80 L885.26 258.70 L887.37 258.61 L889.48 258.52 L891.59 258.43 L893.70 258.35 L895.81 258.26 L897.92 258.17 L900.03 258.08 L902.14 257.99 L904.25 257.91 L906.36 257.82 L908.47 257.74 L910.58 257.65 L912.69 257.57 L914.80 257.48 L916.91 257.40 L919.02 257.32 L921.13 257.23 L923.24 257.15 L925.35 257.07 L927.46 256.99 L929.57 256.91 L931.68 256.83 L933.80 256.75 L935.91 256.67 L938.02 256.59 L940.13 256.51 L942.24 256.43 L944.35 256.35 L946.46 256.27 L948.57 256.20 L950.68 256.12 L952.79 256.04 L954.90 255.97 L957.01 255.89 L959.12 255.82 L961.23 255.74 L963.34 255.67 L965.45 255.59 L967.56 255.52 L969.67 255.45 L971.78 255.37 L973.89 255.30 L976.00 255.23" stroke="#c56e1a" stroke-dasharray="3.1 10.7 11.5 10.7" stroke-linecap="butt"/>
</g>
<line x1="114.50" y1="238.00" x2="993.70" y2="238.00" stroke="#666" stroke-opacity="0.44" stroke-width="1.6"/>
<g stroke="#666" stroke-width="1.42" fill="none">
<rect x="114.50" y="1.60" width="879.20" height="542.80"/>
<path d="M131.90 544.40V534.00M131.90 1.60V12.00M174.11 544.40V538.20M174.11 1.60V7.80M216.31 544.40V538.20M216.31 1.60V7.80M258.51 544.40V538.20M258.51 1.60V7.80M300.72 544.40V538.20M300.72 1.60V7.80M342.93 544.40V534.00M342.93 1.60V12.00M385.13 544.40V538.20M385.13 1.60V7.80M427.34 544.40V538.20M427.34 1.60V7.80M469.54 544.40V538.20M469.54 1.60V7.80M511.75 544.40V538.20M511.75 1.60V7.80M553.95 544.40V534.00M553.95 1.60V12.00M596.16 544.40V538.20M596.16 1.60V7.80M638.36 544.40V538.20M638.36 1.60V7.80M680.57 544.40V538.20M680.57 1.60V7.80M722.77 544.40V538.20M722.77 1.60V7.80M764.98 544.40V534.00M764.98 1.60V12.00M807.18 544.40V538.20M807.18 1.60V7.80M849.38 544.40V538.20M849.38 1.60V7.80M891.59 544.40V538.20M891.59 1.60V7.80M933.80 544.40V538.20M933.80 1.60V7.80M976.00 544.40V534.00M976.00 1.60V12.00M114.50 534.57H120.70M993.70 534.57H987.50M114.50 517.12H124.90M993.70 517.12H983.30M114.50 499.68H120.70M993.70 499.68H987.50M114.50 482.23H120.70M993.70 482.23H987.50M114.50 464.79H120.70M993.70 464.79H987.50M114.50 447.34H124.90M993.70 447.34H983.30M114.50 429.89H120.70M993.70 429.89H987.50M114.50 412.45H120.70M993.70 412.45H987.50M114.50 395.00H120.70M993.70 395.00H987.50M114.50 377.56H124.90M993.70 377.56H983.30M114.50 360.12H120.70M993.70 360.12H987.50M114.50 342.67H120.70M993.70 342.67H987.50M114.50 325.23H120.70M993.70 325.23H987.50M114.50 307.78H124.90M993.70 307.78H983.30M114.50 290.34H120.70M993.70 290.34H987.50M114.50 272.89H120.70M993.70 272.89H987.50M114.50 255.44H120.70M993.70 255.44H987.50M114.50 238.00H124.90M993.70 238.00H983.30M114.50 220.56H120.70M993.70 220.56H987.50M114.50 203.11H120.70M993.70 203.11H987.50M114.50 185.66H120.70M993.70 185.66H987.50M114.50 168.22H124.90M993.70 168.22H983.30M114.50 150.77H120.70M993.70 150.77H987.50M114.50 133.33H120.70M993.70 133.33H987.50M114.50 115.88H120.70M993.70 115.88H987.50M114.50 98.44H124.90M993.70 98.44H983.30M114.50 80.99H120.70M993.70 80.99H987.50M114.50 63.55H120.70M993.70 63.55H987.50M114.50 46.10H120.70M993.70 46.10H987.50M114.50 28.66H124.90M993.70 28.66H983.30M114.50 11.21H120.70M993.70 11.21H987.50"/>
</g>
<g mask="url(#mk)" class="tk">
<text transform="translate(105.50,527.12) scale(0.907,1)" font-size="30.40" text-anchor="end" >−0.00008</text>
<text transform="translate(105.50,457.34) scale(0.907,1)" font-size="30.40" text-anchor="end" >−0.00006</text>
<text transform="translate(105.50,387.56) scale(0.907,1)" font-size="30.40" text-anchor="end" >−0.00004</text>
<text transform="translate(105.50,317.78) scale(0.907,1)" font-size="30.40" text-anchor="end" >−0.00002</text>
<text transform="translate(105.50,248.00) scale(0.907,1)" font-size="30.40" text-anchor="end" >0.00000</text>
<text transform="translate(105.50,178.22) scale(0.907,1)" font-size="30.40" text-anchor="end" >0.00002</text>
<text transform="translate(105.50,108.44) scale(0.907,1)" font-size="30.40" text-anchor="end" >0.00004</text>
<text transform="translate(105.50,38.66) scale(0.907,1)" font-size="30.40" text-anchor="end" >0.00006</text>
<text transform="translate(131.90,577.80) scale(0.907,1)" font-size="30.40" text-anchor="middle" >100</text>
<text transform="translate(342.93,577.80) scale(0.907,1)" font-size="30.40" text-anchor="middle" >150</text>
<text transform="translate(553.95,577.80) scale(0.907,1)" font-size="30.40" text-anchor="middle" >200</text>
<text transform="translate(764.98,577.80) scale(0.907,1)" font-size="30.40" text-anchor="middle" >250</text>
<text transform="translate(976.00,577.80) scale(0.907,1)" font-size="30.40" text-anchor="middle" >300</text>
<text transform="translate(547.51,624.50) scale(1.101,1.009)" font-size="27" font-style="italic" stroke="#000" stroke-width="0.3">r</text>
</g>
<rect x="708" y="294.3" width="260.2" height="235.1" rx="13" ry="13" fill="#fff" stroke="#000" stroke-width="3"/>
<line x1="723.1" x2="778.7" y1="325.60" y2="325.60" stroke="#000" stroke-width="4.6"/>
<line x1="723.1" x2="778.7" y1="380.80" y2="380.80" stroke="#f00" stroke-width="4.6"/>
<line x1="723.1" x2="778.7" y1="436.60" y2="436.60" stroke="#0f0" stroke-width="4.6"/>
<line x1="723.1" x2="778.7" y1="491.70" y2="491.70" stroke="#00f" stroke-width="4.6"/>
<g mask="url(#mk)">
<text transform="translate(791.49,336.89) scale(1.087,0.937)" font-size="27" font-style="italic" stroke="#000" stroke-width="0.3">ρ</text>
<text transform="translate(791.49,391.89) scale(1.087,0.937)" font-size="27" font-style="italic" stroke="#000" stroke-width="0.3">ρ</text>
<text transform="translate(811.81,395.08) scale(1.032,1.037)" font-size="27" stroke="#000" stroke-width="0.3">+</text>
<text transform="translate(826.99,392.19) scale(1.104,1.008)" font-size="27" font-style="italic" stroke="#000" stroke-width="0.3">p</text>
<text transform="translate(841.80,397.65) scale(0.926,0.929)" font-size="27" font-style="italic" stroke="#000" stroke-width="0.3">t</text>
<text transform="translate(791.49,447.69) scale(1.087,0.937)" font-size="27" font-style="italic" stroke="#000" stroke-width="0.3">ρ</text>
<text transform="translate(811.81,450.68) scale(1.032,1.037)" font-size="27" stroke="#000" stroke-width="0.3">+</text>
<text transform="translate(833.69,448.09) scale(1.104,1.008)" font-size="27" font-style="italic" stroke="#000" stroke-width="0.3">p</text>
<text transform="translate(848.17,452.90) scale(1.048,0.875)" font-size="27" font-style="italic" stroke="#000" stroke-width="0.3">r</text>
<text transform="translate(867.41,450.68) scale(1.032,1.037)" font-size="27" stroke="#000" stroke-width="0.3">+</text>
<text transform="translate(889.88,447.70) scale(1.037,1.054)" font-size="27" stroke="#000" stroke-width="0.3">2</text>
<text transform="translate(902.89,448.09) scale(1.104,1.008)" font-size="27" font-style="italic" stroke="#000" stroke-width="0.3">p</text>
<text transform="translate(917.70,453.05) scale(0.926,0.916)" font-size="27" font-style="italic" stroke="#000" stroke-width="0.3">t</text>
<text transform="translate(791.49,502.79) scale(1.087,0.937)" font-size="27" font-style="italic" stroke="#000" stroke-width="0.3">ρ</text>
<text transform="translate(811.81,505.98) scale(1.032,1.037)" font-size="27" stroke="#000" stroke-width="0.3">+</text>
<text transform="translate(833.69,503.32) scale(1.104,1.002)" font-size="27" font-style="italic" stroke="#000" stroke-width="0.3">p</text>
<text transform="translate(848.17,508.40) scale(1.048,0.914)" font-size="27" font-style="italic" stroke="#000" stroke-width="0.3">r</text>
<text transform="translate(866.92,501.91) scale(0.997,0.881)" font-size="27" stroke="#000" stroke-width="0.3">(</text>
<text transform="translate(892.96,504.46) scale(0.993,0.874)" font-size="27" stroke="#000" stroke-width="0.7">=</text>
<text transform="translate(907.95,503.31) scale(1.067,1.089)" font-size="27" stroke="#000" stroke-width="0.3">0</text>
<text transform="translate(922.60,503.43) scale(1.111,0.988)" font-size="27" stroke="#000" stroke-width="0.3">.</text>
<text transform="translate(930.94,503.60) scale(0.847,1.077)" font-size="27" stroke="#000" stroke-width="0.3">1</text>
<text transform="translate(942.60,501.91) scale(0.983,0.881)" font-size="27" stroke="#000" stroke-width="0.3">)</text>
<g fill="none" stroke="#000" stroke-linecap="round" stroke-linejoin="round"><path d="M876.1 503.2 C877.6 503.6 879.3 502.6 880.6 498.6 C881.6 495.6 883.2 491.2 884.2 487.3" stroke-width="2.1"/><path d="M876.9 494.4 C875.6 493.6 875.3 491.9 876.6 490.2 C878.6 487.9 882.6 486.8 886.2 486.8 C889.8 486.8 892.3 488.1 892.3 490.5 C892.3 493.8 888.2 496.5 882.9 496.5" stroke-width="1.6"/></g>
</g>
</svg></body></html>
